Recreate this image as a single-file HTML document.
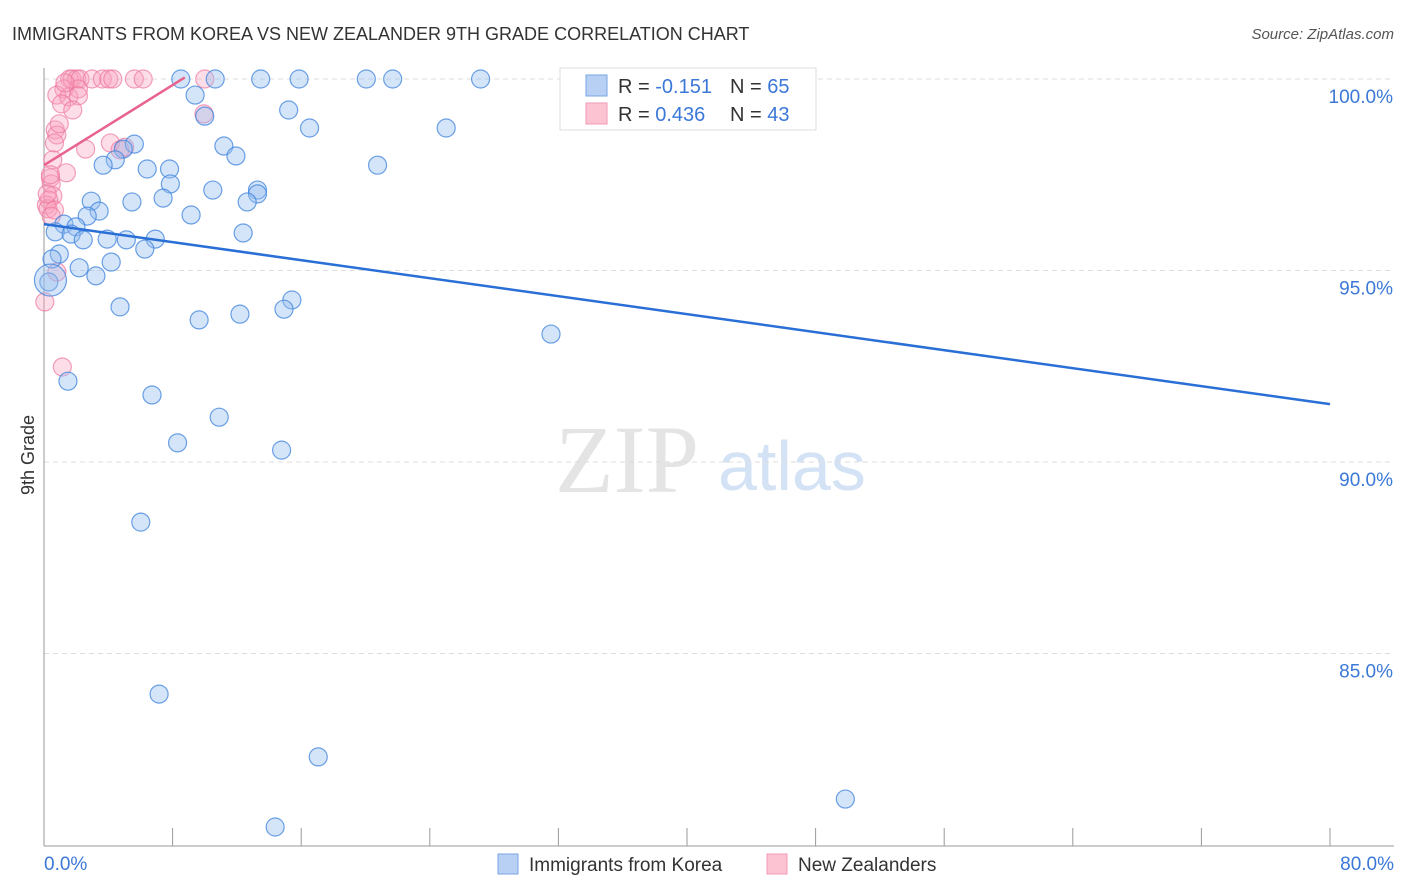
<!DOCTYPE html>
<html><head><meta charset="utf-8"><style>
body{margin:0;background:#fff;font-family:"Liberation Sans",sans-serif}
svg{display:block}
</style></head><body>
<svg id="chart" width="1406" height="892">
<text x="12" y="40" font-size="18" fill="#333">IMMIGRANTS FROM KOREA VS NEW ZEALANDER 9TH GRADE CORRELATION CHART</text>
<text x="1394" y="39" font-size="15" fill="#555" font-style="italic" text-anchor="end">Source: ZipAtlas.com</text>
<text x="555" y="492" font-size="96" fill="#e4e4e4" font-family="Liberation Serif">ZIP</text>
<text x="718" y="490" font-size="70" fill="#d4e2f5">atlas</text>
<text transform="translate(34,455) rotate(-90)" font-size="18" fill="#333" text-anchor="middle">9th Grade</text>
<g id="grid"></g><g id="pts"></g><g id="lines"></g>
<g>
<rect x="560" y="68" width="256" height="62" fill="#fff" stroke="#ddd"/>
<rect x="586" y="75" width="21" height="21" fill="#b8d0f3" stroke="#7aa6e6"/>
<rect x="586" y="103" width="21" height="21" fill="#fcc4d3" stroke="#f09ab4"/>
<text x="618" y="93" font-size="20" fill="#333">R = <tspan fill="#3b78d8">-0.151</tspan></text>
<text x="730" y="93" font-size="20" fill="#333">N = <tspan fill="#3b78d8">65</tspan></text>
<text x="618" y="121" font-size="20" fill="#333">R = <tspan fill="#3b78d8">0.436</tspan></text>
<text x="730" y="121" font-size="20" fill="#333">N = <tspan fill="#3b78d8">43</tspan></text>
</g>
<g>
<rect x="498" y="854" width="20" height="20" fill="#b8d0f3" stroke="#7aa6e6"/>
<text x="529" y="871" font-size="19" fill="#333">Immigrants from Korea</text>
<rect x="767" y="854" width="20" height="20" fill="#fcc4d3" stroke="#f09ab4"/>
<text x="798" y="871" font-size="19" fill="#333">New Zealanders</text>
</g>
</svg>
<script>
const xTicks=[0,8,16,24,32,40,48,56,64,72,80];
const xTickLabels=["0.0%","80.0%"];
const yTicks=[100,95,90,85];
const yTickLabels=["100.0%","95.0%","90.0%","85.0%"];
const koreaX=[8.51,10.65,13.48,15.87,20.05,21.69,27.16,9.40,15.22,10.0,16.52,25.02,5.62,11.19,4.93,11.94,4.43,3.68,6.42,7.81,20.75,7.86,10.50,13.28,13.28,7.41,2.94,5.47,12.64,3.43,9.15,2.69,1.24,1.99,0.70,1.69,12.39,2.44,3.93,5.12,6.92,6.27,0.95,0.50,4.18,2.19,3.23,0.30,15.42,14.93,4.73,9.65,12.19,31.54,1.49,6.72,10.90,8.31,14.78,6.02,7.16,17.06,49.85,14.38,0.40];
const koreaY=[100,100,100,100,100,100,100,99.58,99.19,99.03,98.72,98.72,98.30,98.25,98.17,97.99,97.89,97.75,97.65,97.65,97.75,97.26,97.10,97.10,97.00,96.89,96.81,96.79,96.79,96.55,96.45,96.42,96.21,96.14,96.01,95.95,95.98,95.80,95.82,95.80,95.82,95.56,95.43,95.30,95.22,95.07,94.86,94.70,94.23,93.99,94.05,93.71,93.86,93.34,92.11,91.75,91.17,90.50,90.31,88.43,83.94,82.30,81.20,80.47,94.75];
const nzX=[1.59,1.74,2.04,2.24,2.99,3.63,4.03,4.28,5.62,6.17,10.0,1.24,2.14,0.80,1.54,2.14,1.09,1.79,9.95,0.70,0.80,0.65,4.13,2.59,4.73,0.55,1.39,0.40,0.45,0.55,0.30,0.15,0.25,0.65,0.45,0.80,1.14,0.05,0.95,5.02,0.2,0.4,1.3];
const nzY=[100,100,100,100,100,100,100,100,100,100,100,99.74,99.74,99.58,99.53,99.56,99.35,99.19,99.09,98.67,98.54,98.33,98.33,98.17,98.15,97.89,97.55,97.42,97.26,96.95,96.84,96.71,96.61,96.58,96.42,94.96,92.48,94.18,98.83,98.22,97.0,97.5,99.9];
const koreaTrend=[96.21,91.51];const koreaTrendX=[0,80];
const nzTrend=[97.75,100.04];const nzTrendX=[0,8.76];
const X=v=>44+v/80*1286, Y=v=>79+(100-v)*38.3;
const NS="http://www.w3.org/2000/svg";
function mk(tag,attrs,parent){const e=document.createElementNS(NS,tag);for(const k in attrs)e.setAttribute(k,attrs[k]);parent.appendChild(e);return e;}
const grid=document.getElementById('grid'),pts=document.getElementById('pts'),lines=document.getElementById('lines');
yTicks.forEach((t,i)=>{
 const l=mk('line',{x1:44,x2:1394,y1:Y(t),y2:Y(t),stroke:'#ddd','stroke-dasharray':'5,4'},grid);
 
 
 const tx=mk('text',{x:1393,y:Y(t)+24,'font-size':19,fill:'#3b78d8','text-anchor':'end'},grid);tx.textContent=yTickLabels[i];
 
 
});
const ax=mk('line',{x1:44,x2:44,y1:68,y2:846,stroke:'#999'},grid);


const bx=mk('line',{x1:44,x2:1394,y1:846,y2:846,stroke:'#999'},grid);


xTicks.forEach(t=>{const l=mk('line',{x1:X(t),x2:X(t),y1:828,y2:846,stroke:'#999'},grid);
 
 });
[[0,'start',44],[80,'end',1394]].forEach((d,i)=>{const tx=mk('text',{x:d[2],y:870,'font-size':19,fill:'#3b78d8','text-anchor':d[1]},grid);tx.textContent=xTickLabels[i];
 
 });
nzX.forEach((x,i)=>{const c=mk('circle',{cx:X(x),cy:Y(nzY[i]),r:9,fill:'rgba(248,160,188,0.35)',stroke:'rgba(236,120,158,0.7)','stroke-width':1.2},pts);
 
 });
koreaX.forEach((x,i)=>{const c=mk('circle',{cx:X(x),cy:Y(koreaY[i]),r:i==koreaX.length-1?16:9,fill:'rgba(150,190,240,0.4)',stroke:'rgba(60,130,220,0.75)','stroke-width':1.2},pts);
 
 });
const kl=mk('line',{x1:X(koreaTrendX[0]),y1:Y(koreaTrend[0]),x2:X(koreaTrendX[1]),y2:Y(koreaTrend[1]),stroke:'#2a6fd6','stroke-width':2.5},lines);


const nl=mk('line',{x1:X(nzTrendX[0]),y1:Y(nzTrend[0]),x2:X(nzTrendX[1]),y2:Y(nzTrend[1]),stroke:'#e8638d','stroke-width':2.5},lines);


</script>
</body></html>
